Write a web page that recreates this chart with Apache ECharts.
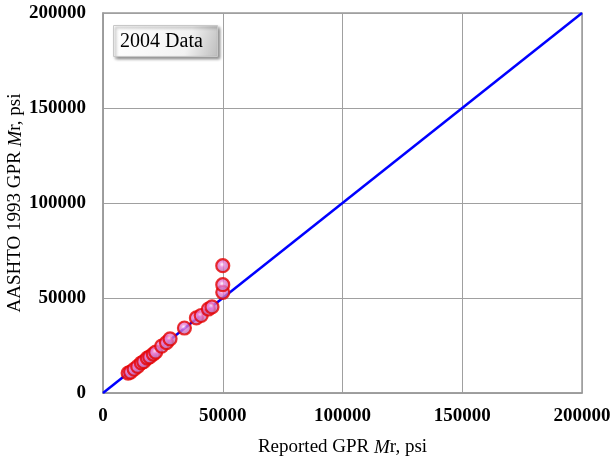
<!DOCTYPE html>
<html>
<head>
<meta charset="utf-8">
<script src="https://cdn.jsdelivr.net/npm/echarts@6/dist/echarts.min.js"></script>
<style>
  html, body { margin: 0; padding: 0; background: #fff; }
  #chart { width: 611px; height: 463px; }
</style>
</head>
<body>
<div id="chart"></div>
<script>
// Reported vs. AASHTO 1993 GPR resilient modulus (psi), 2004 data
const reportedMr = [10500, 11500, 13000, 14500, 16000, 17000, 18500, 19500, 21000, 22000, 24500, 26500, 28000, 34000, 39000, 41000, 44000, 45500, 50000, 50000, 50000];
const aashtoMr   = [10500, 11000, 12500, 14000, 15800, 16500, 18400, 19000, 20500, 21500, 24700, 26500, 28500, 34200, 39500, 40800, 44200, 45300, 53000, 57000, 67000];
// Line of equality
const equalityLine = [[0, 0], [200000, 200000]];
const axisTicks = [0, 50000, 100000, 150000, 200000];

const serif = '"Liberation Serif", "DejaVu Serif", serif';
const points = reportedMr.map((x, i) => [x, aashtoMr[i]]);

const chart = echarts.init(document.getElementById('chart'));

const titleRich = {
  n: { fontFamily: serif, fontSize: 19, color: '#000' },
  i: { fontFamily: serif, fontSize: 19, fontStyle: 'italic', color: '#000' }
};

const axisCommon = {
  type: 'value',
  min: axisTicks[0],
  max: axisTicks[axisTicks.length - 1],
  interval: axisTicks[1] - axisTicks[0],
  axisLine: { show: true, lineStyle: { color: '#9a9a9a', width: 1.5 } },
  axisTick: { show: false },
  splitLine: { show: true, lineStyle: { color: '#a0a0a0', width: 1 } },
  nameLocation: 'middle',
  nameMoveOverlap: false,
  nameTextStyle: { rich: titleRich }
};

const tickLabel = {
  fontFamily: serif, fontSize: 19, fontWeight: 'bold', color: '#000',
  formatter: v => String(v)
};

chart.setOption({
  animation: false,
  backgroundColor: '#fff',
  grid: {
    left: 103, right: 29, top: 13, bottom: 70,
    containLabel: false, outerBoundsMode: 'none',
    show: true, borderColor: '#9a9a9a', borderWidth: 1.5
  },
  xAxis: Object.assign({}, axisCommon, {
    name: '{n|Reported GPR }{i|M}{n|r, psi}',
    nameGap: 45,
    axisLabel: Object.assign({}, tickLabel, { margin: 14 })
  }),
  yAxis: Object.assign({}, axisCommon, {
    name: '{n|AASHTO 1993 GPR }{i|M}{n|r, psi}',
    nameGap: 78,
    axisLabel: Object.assign({}, tickLabel, { margin: 17 })
  }),
  series: [
    {
      type: 'line',
      data: equalityLine,
      symbol: 'none',
      lineStyle: { color: '#0000ff', width: 2.5 },
      z: 2
    },
    {
      type: 'scatter',
      data: points,
      symbol: 'circle',
      symbolSize: 13,
      itemStyle: {
        color: {
          type: 'radial', x: 0.45, y: 0.42, r: 0.6,
          colorStops: [
            { offset: 0, color: '#fff4fc' },
            { offset: 0.3, color: '#ea7ad6' },
            { offset: 0.75, color: '#bb72b2' },
            { offset: 1, color: '#9a8a9c' }
          ]
        },
        borderColor: '#e60000',
        borderWidth: 2.2
      },
      z: 3
    }
  ],
  graphic: [
    {
      type: 'group',
      left: 113,
      top: 25,
      children: [
        {
          type: 'rect',
          shape: { x: 0, y: 0, width: 104, height: 31 },
          style: {
            fill: {
              type: 'linear', x: 0, y: 0, x2: 1, y2: 1,
              colorStops: [
                { offset: 0, color: '#ffffff' },
                { offset: 0.7, color: '#f2f2f2' },
                { offset: 1, color: '#bdbdbd' }
              ]
            },
            stroke: '#c8c8c8',
            lineWidth: 1,
            shadowColor: 'rgba(0,0,0,0.45)',
            shadowBlur: 3,
            shadowOffsetX: 2,
            shadowOffsetY: 2
          }
        },
        {
          type: 'text',
          style: {
            x: 48, y: 16,
            text: '2004 Data',
            font: '20px ' + serif,
            fill: '#000',
            align: 'center',
            verticalAlign: 'middle'
          }
        }
      ]
    }
  ]
});
</script>
</body>
</html>
